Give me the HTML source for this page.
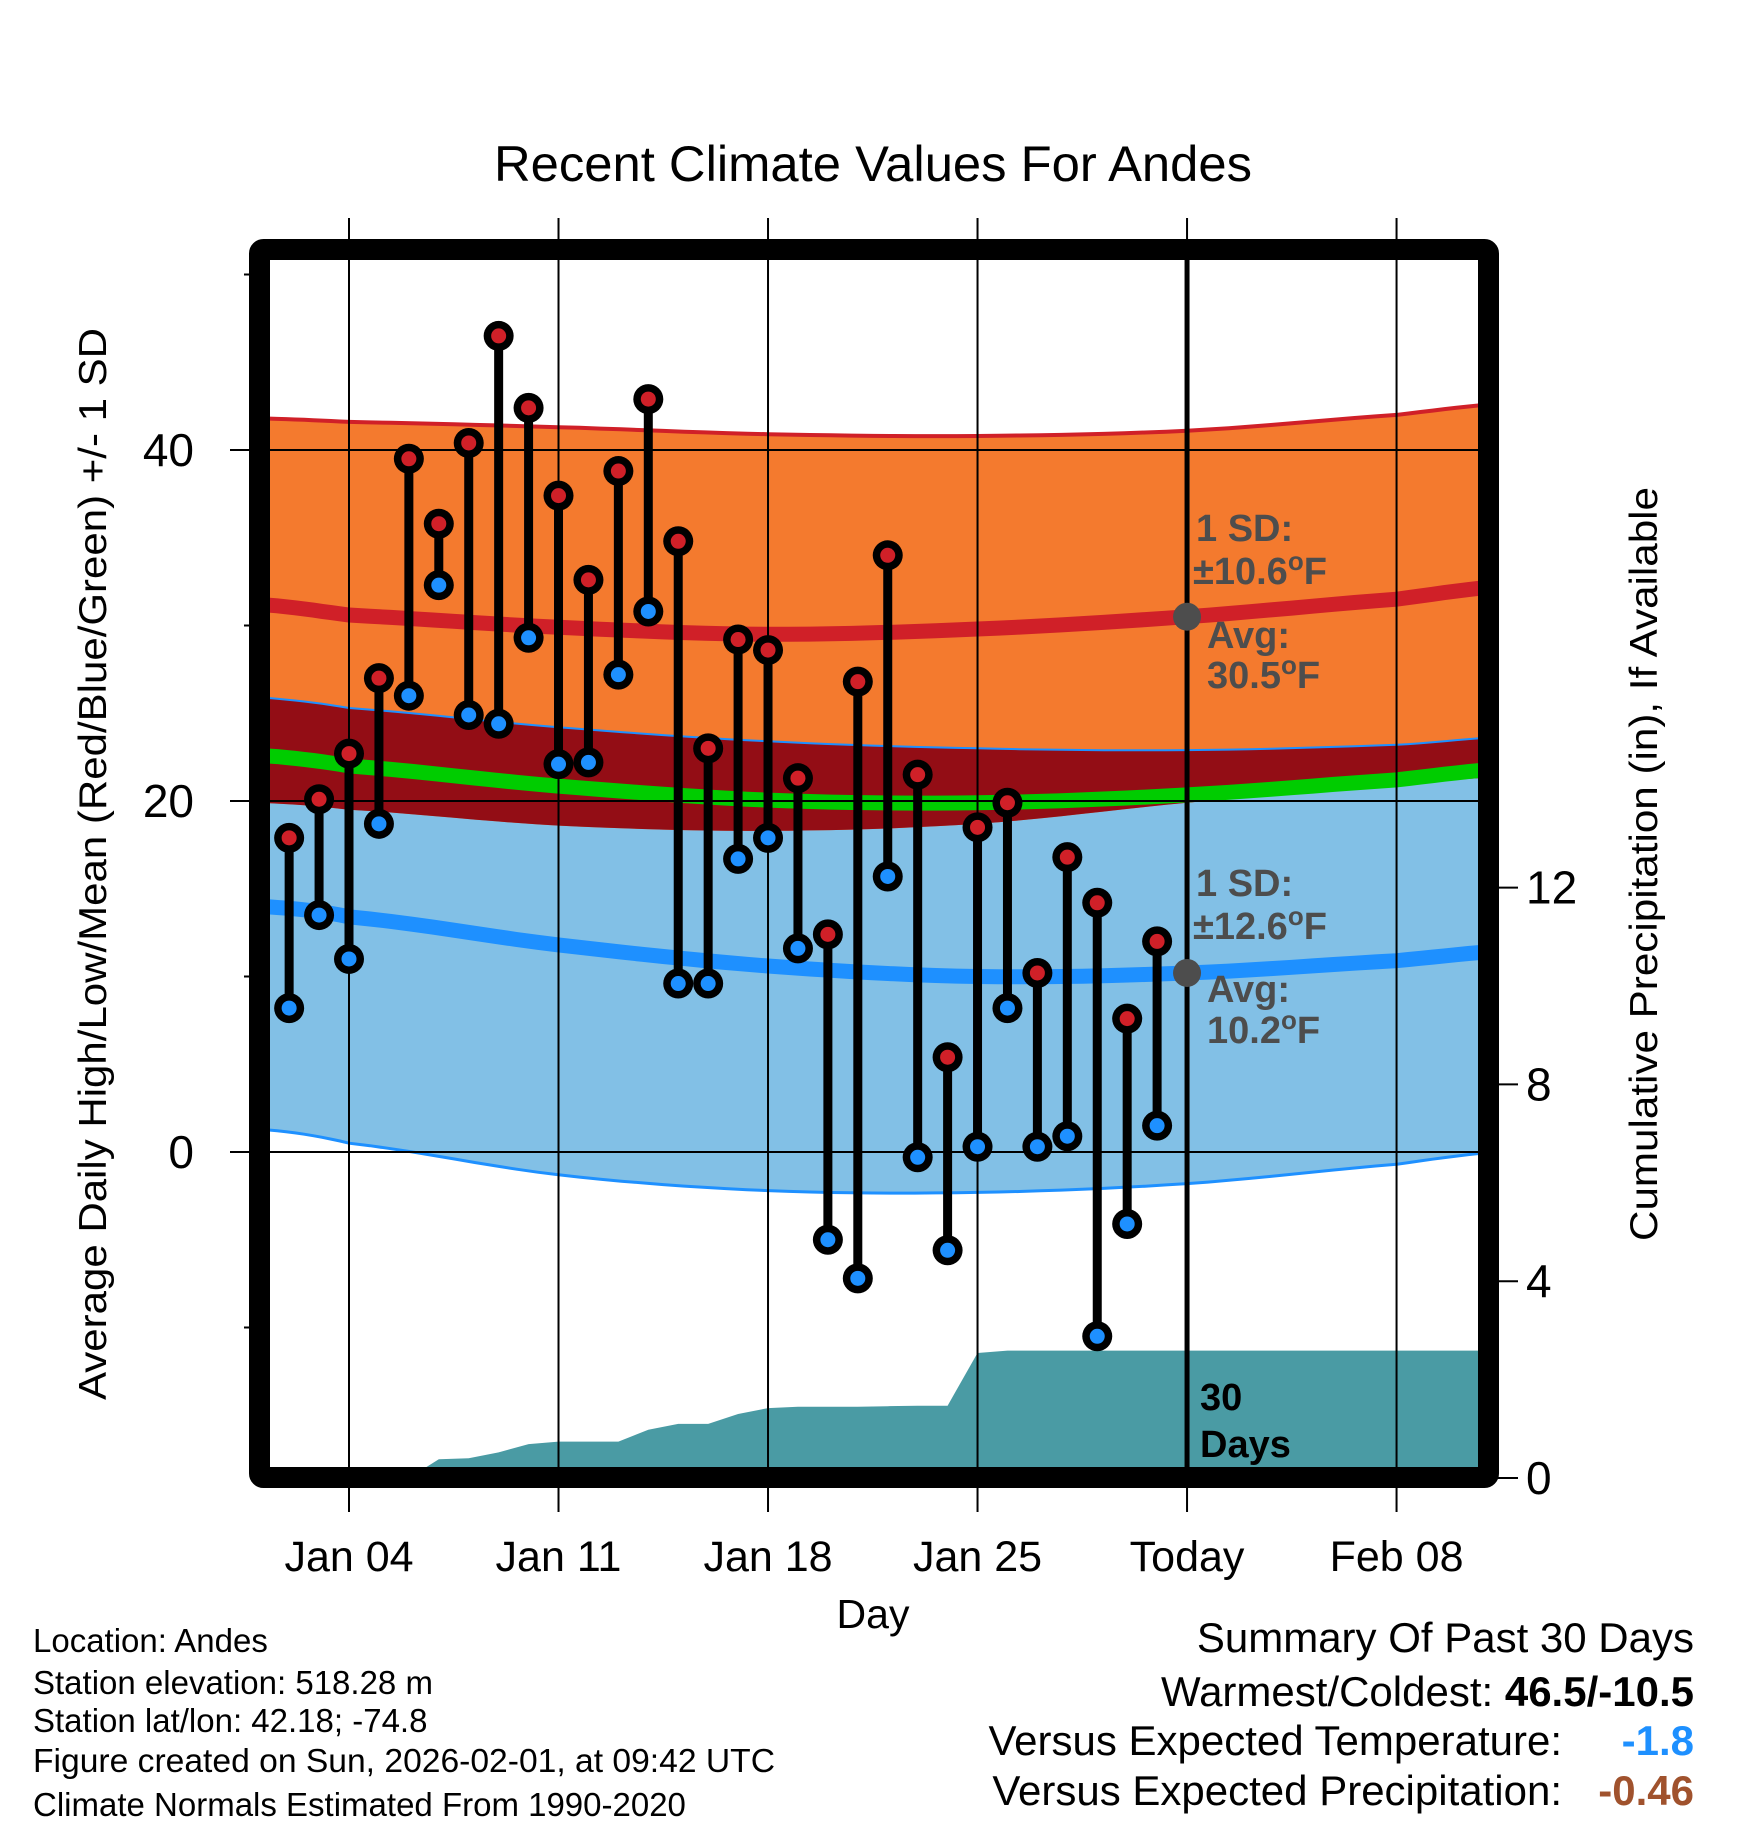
<!DOCTYPE html>
<html><head><meta charset="utf-8">
<style>
html,body{margin:0;padding:0;background:#fff;}
svg{display:block;font-family:"Liberation Sans",sans-serif;}
</style></head>
<body>
<svg id="chart" width="1748" height="1828" viewBox="0 0 1748 1828" xmlns="http://www.w3.org/2000/svg">
<rect width="1748" height="1828" fill="#fff"/>
<text x="873" y="181" font-size="50" text-anchor="middle" textLength="758" lengthAdjust="spacingAndGlyphs">Recent Climate Values For Andes</text>
<g id="plot"></g>
<text transform="translate(106,864) rotate(-90)" font-size="39" text-anchor="middle" textLength="1072" lengthAdjust="spacingAndGlyphs">Average Daily High/Low/Mean (Red/Blue/Green) +/- 1 SD</text>
<text transform="translate(1657,864) rotate(-90)" font-size="39" text-anchor="middle" textLength="754" lengthAdjust="spacingAndGlyphs">Cumulative Precipitation (in), If Available</text>
<text x="873" y="1628" font-size="41" text-anchor="middle">Day</text>
<g font-size="33">
<text x="33" y="1652">Location: Andes</text>
<text x="33" y="1694">Station elevation: 518.28 m</text>
<text x="33" y="1732">Station lat/lon: 42.18; -74.8</text>
<text x="33" y="1772" textLength="742" lengthAdjust="spacingAndGlyphs">Figure created on Sun, 2026-02-01, at 09:42 UTC</text>
<text x="33" y="1816">Climate Normals Estimated From 1990-2020</text>
</g>
<g font-size="42">
<text x="1694" y="1652" text-anchor="end">Summary Of Past 30 Days</text>
<text x="1694" y="1706" text-anchor="end">Warmest/Coldest: <tspan font-weight="bold">46.5/-10.5</tspan></text>
<text x="1562" y="1755" text-anchor="end">Versus Expected Temperature:</text>
<text x="1694" y="1755" text-anchor="end" font-weight="bold" fill="#1e90ff">-1.8</text>
<text x="1562" y="1805" text-anchor="end">Versus Expected Precipitation:</text>
<text x="1694" y="1805" text-anchor="end" font-weight="bold" fill="#a0522d">-0.46</text>
</g>
</svg>
<script>
// Observed data, Jan 2 .. Jan 31
const obsDays = [2,3,4,5,6,7,8,9,10,11,12,13,14,15,16,17,18,19,20,21,22,23,24,25,26,27,28,29,30,31];
const highs = [17.9,20.1,22.7,27.0,39.5,35.8,40.4,46.5,42.4,37.4,32.6,38.8,42.9,34.8,23.0,29.2,28.6,21.3,12.4,26.8,34.0,21.5,5.4,18.5,19.9,10.2,16.8,14.2,7.6,12.0];
const lows = [8.2,13.5,11.0,18.7,26.0,32.3,24.9,24.4,29.3,22.1,22.2,27.2,30.8,9.6,9.6,16.7,17.9,11.6,-5.0,-7.2,15.7,-0.3,-5.6,0.3,8.2,0.3,0.9,-10.5,-4.1,1.5];
const precipCum = [0,0,0,0,0,0.38,0.40,0.52,0.69,0.74,0.74,0.74,0.98,1.10,1.10,1.30,1.42,1.45,1.45,1.45,1.46,1.47,1.47,2.54,2.59,2.59,2.59,2.59,2.59,2.59];
// Climate normals at selected days
const normDays = [1,4,11,18,25,32,39,43];
const highMean = [31.2,30.6,29.9,29.5,29.8,30.5,31.5,32.3];
const highUpper = [41.8,41.6,41.3,40.9,40.8,41.1,42.0,42.7];
const highLower = [19.9,19.5,18.6,18.3,18.7,19.9,20.9,21.4];
const lowMean = [14.0,13.4,11.8,10.6,10.0,10.2,10.9,11.5];
const lowUpper = [25.9,25.3,24.2,23.4,23.0,22.9,23.2,23.7];
const lowLower = [1.3,0.5,-1.3,-2.2,-2.3,-1.8,-0.7,0.1];
const xTickDays = [4,11,18,25,32,39];
const xTickLabels = ["Jan 04","Jan 11","Jan 18","Jan 25","Today","Feb 08"];
const yTicks = [0,20,40];
const yMinorTicks = [-10,10,30,50];
const y2Ticks = [0,4,8,12];
const todayDay = 32;
const todayHighAvg = 30.5, todayLowAvg = 10.2;

const NS = "http://www.w3.org/2000/svg";
const L = 270, R = 1478, T = 260, B = 1467;
const x = d => 349 + (d - 4) * 29.93;
const y = v => 1152 - v * 17.55;
const yp = v => 1478 - v * 49.2;
const plot = document.getElementById('plot');
function mk(tag, attrs, parent) {
  const e = document.createElementNS(NS, tag);
  for (const k in attrs) e.setAttribute(k, attrs[k]);
  (parent || plot).appendChild(e);
  return e;
}
function smoothPts(vals) {
  const pts = [];
  const n = normDays.length;
  for (let i = 0; i < n - 1; i++) {
    const p0 = vals[Math.max(i-1,0)], p1 = vals[i], p2 = vals[i+1], p3 = vals[Math.min(i+2,n-1)];
    const d0 = normDays[i], d1 = normDays[i+1];
    for (let s = 0; s < 10; s++) {
      const t = s / 10;
      const v = 0.5*((2*p1)+(-p0+p2)*t+(2*p0-5*p1+4*p2-p3)*t*t+(-p0+3*p1-3*p2+p3)*t*t*t);
      pts.push([x(d0 + (d1-d0)*t), y(v)]);
    }
  }
  pts.push([x(normDays[n-1]), y(vals[n-1])]);
  return pts;
}
const toStr = p => p.map(q => q[0].toFixed(1)+','+q[1].toFixed(1)).join(' ');
function band(upper, lower, fill, name) {
  const u = smoothPts(upper), l = smoothPts(lower).reverse();
  const e = mk('polygon', {points: toStr(u.concat(l)), fill: fill, 'clip-path': 'url(#clip)'});
  
  
}
function line(vals, color, w, name) {
  const e = mk('polyline', {points: toStr(smoothPts(vals)), fill: 'none', stroke: color, 'stroke-width': w, 'clip-path': 'url(#clip)'});
  
  
}
const defs = mk('defs', {});
const cp = mk('clipPath', {id: 'clip'}, defs);
mk('rect', {x: L, y: T, width: R-L, height: B-T}, cp);

band(lowUpper, lowLower, '#82c0e6', 'low-sd-band');
band(highUpper, highLower, '#f47a2e', 'high-sd-band');
band(lowUpper, highLower, '#930d15', 'overlap-band');
line(lowUpper, '#1e90ff', 2, 'low-upper-edge');
line(lowLower, '#1e90ff', 3, 'low-lower-edge');
line(highUpper, '#d02028', 4, 'high-upper-edge');
const meanVals = highMean.map((v,i) => (v + lowMean[i]) / 2);
line(meanVals, '#00cc00', 15, 'mean-line');
line(highMean, '#d02028', 15, 'high-mean-line');
line(lowMean, '#1e90ff', 15, 'low-mean-line');

{
  const pts = [[x(obsDays[0]), yp(0)]];
  obsDays.forEach((d,i) => pts.push([x(d), yp(precipCum[i])]));
  pts.push([R, yp(precipCum[precipCum.length-1])]);
  pts.push([R, yp(0)]);
  const e = mk('polygon', {points: toStr(pts), fill: '#4a9ba4', 'clip-path': 'url(#clip)'});
  
  
}

xTickDays.forEach((d,i) => {
  const g = mk('line', {x1: x(d), x2: x(d), y1: 218, y2: 1512, stroke: '#000', 'stroke-width': 2});
  
  
  const t = mk('text', {x: x(d), y: 1571, 'font-size': 43, 'text-anchor': 'middle'});
  t.textContent = xTickLabels[i];
  
  
});
yTicks.forEach(v => {
  const g = mk('line', {x1: 230, x2: R, y1: y(v), y2: y(v), stroke: '#000', 'stroke-width': 2});
  
  
  const t = mk('text', {x: 194, y: y(v)+16, 'font-size': 46, 'text-anchor': 'end'});
  t.textContent = v;
  
  
});
yMinorTicks.forEach(v => {
  const g = mk('line', {x1: 244, x2: 252, y1: y(v), y2: y(v), stroke: '#000', 'stroke-width': 2});
  
  
});
y2Ticks.forEach(v => {
  const g = mk('line', {x1: 1495, x2: 1518, y1: yp(v), y2: yp(v), stroke: '#000', 'stroke-width': 2});
  
  
  const t = mk('text', {x: 1526, y: yp(v)+16, 'font-size': 46});
  t.textContent = v;
  
  
});

{
  const e = mk('line', {x1: x(todayDay), x2: x(todayDay), y1: T, y2: B, stroke: '#000', 'stroke-width': 5});
  
  
}

obsDays.forEach((d,i) => {
  const g = mk('g', {});
  
  
  mk('line', {x1: x(d), x2: x(d), y1: y(highs[i]), y2: y(lows[i]), stroke: '#000', 'stroke-width': 9}, g);
  mk('circle', {cx: x(d), cy: y(lows[i]), r: 15, fill: '#000'}, g);
  const lo2 = mk('circle', {cx: x(d), cy: y(lows[i]), r: 7.5, fill: '#1e90ff'}, g);
  
  
  mk('circle', {cx: x(d), cy: y(highs[i]), r: 15, fill: '#000'}, g);
  const hi2 = mk('circle', {cx: x(d), cy: y(highs[i]), r: 7.5, fill: '#d02028'}, g);
  
  
});

[todayHighAvg, todayLowAvg].forEach(v => {
  const c = mk('circle', {cx: x(todayDay), cy: y(v), r: 14, fill: '#4d4d4d'});
  
  
});
const ann = [
  ['1 SD:', '', 1196, 541], ['±10.6', 'F', 1193, 584], ['Avg:', '', 1207, 648], ['30.5', 'F', 1207, 688],
  ['1 SD:', '', 1196, 896], ['±12.6', 'F', 1193, 939], ['Avg:', '', 1207, 1002], ['10.2', 'F', 1207, 1043]
];
ann.forEach(a => {
  const t = mk('text', {x: a[2], y: a[3], 'font-size': 38, 'font-weight': 'bold', fill: '#4d4d4d'});
  
  
  t.appendChild(document.createTextNode(a[0]));
  if (a[1]) {
    const s = mk('tspan', {dy: -14, 'font-size': 26}, t);
    s.textContent = 'o';
    const f = mk('tspan', {dy: 14}, t);
    f.textContent = a[1];
  }
});
[['30', 1410], ['Days', 1457]].forEach(a => {
  const t = mk('text', {x: 1200, y: a[1], 'font-size': 38, 'font-weight': 'bold', fill: '#000'});
  t.textContent = a[0];
  
  
});

{
  const f = mk('rect', {x: 259.5, y: 249.5, width: 1229, height: 1228, fill: 'none', stroke: '#000', 'stroke-width': 21, rx: 4});
  
  
}
</script>
</body></html>
